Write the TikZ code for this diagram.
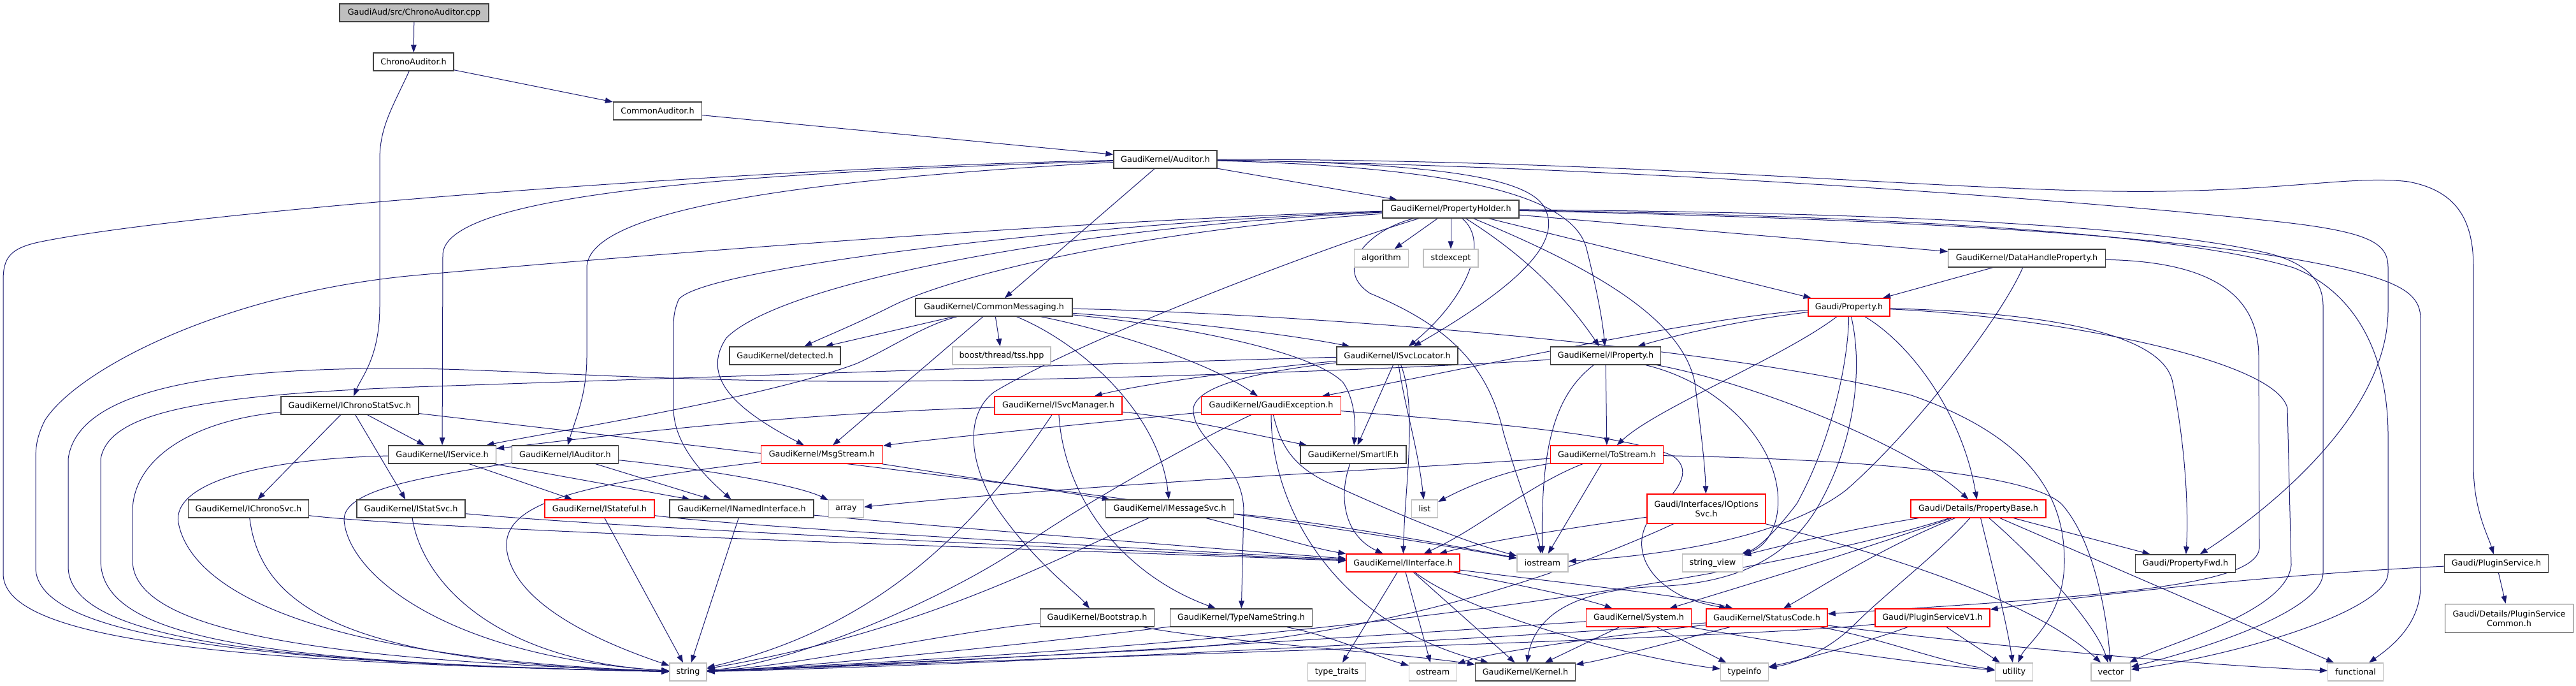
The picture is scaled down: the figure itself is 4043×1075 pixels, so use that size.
\documentclass[tikz,border=0pt]{standalone}
\usepackage{fontspec}
\setmainfont{DejaVu Sans}
\usetikzlibrary{arrows.meta}
\definecolor{ecol}{HTML}{191970}
\definecolor{bcol}{HTML}{404040}
\definecolor{gcol}{HTML}{BFBFBF}
\definecolor{rcol}{HTML}{FF0000}
\pgfdeclarelayer{bg}
\pgfsetlayers{bg,main}
\begin{document}
\begin{tikzpicture}[x=0.75pt,y=-0.75pt,
  box/.style={rectangle, inner sep=0pt, minimum height=21pt, line width=1pt, font=\fontsize{9.6pt}{11.5pt}\selectfont, align=center, fill=white},
  nb/.style={box, draw=bcol},
  nr/.style={box, draw=rcol},
  ng/.style={box, draw=gcol},
  ncpp/.style={box, draw=bcol, fill=gcol},
  bw/.style={minimum width=#1*0.75pt},
  ed/.style={draw=ecol, line width=0.75pt, -{Triangle[length=9pt,width=6.5pt]}}
]
\useasboundingbox (0,0) rectangle (4043,1075);
% nodes
\node[ncpp,bw=234] (cpp) at (650,20) {GaudiAud/src/ChronoAuditor.cpp};
\node[nb,bw=126] (cah) at (649,97) {ChronoAuditor.h};
\node[nb,bw=139] (coa) at (1032,174) {CommonAuditor.h};
\node[nb,bw=162] (aud) at (1829,250) {GaudiKernel/Auditor.h};
\node[nb,bw=214] (ph) at (2277,328) {GaudiKernel/PropertyHolder.h};
\node[ng,bw=85] (alg) at (2168,405) {algorithm};
\node[ng,bw=86] (stde) at (2277,405) {stdexcept};
\node[nb,bw=247] (dhp) at (3181,405) {GaudiKernel/DataHandleProperty.h};
\node[nr,bw=128] (prop) at (2902,482) {Gaudi/Property.h};
\node[nb,bw=246] (cm) at (1560,482) {GaudiKernel/CommonMessaging.h};
\node[ng,bw=154] (tss) at (1572,558) {boost/thread/tss.hpp};
\node[nb,bw=174] (det) at (1232,558) {GaudiKernel/detected.h};
\node[nb,bw=190] (isl) at (2193,558) {GaudiKernel/ISvcLocator.h};
\node[nb,bw=173] (ipr) at (2520,558) {GaudiKernel/IProperty.h};
\node[nb,bw=216] (icss) at (549,636) {GaudiKernel/IChronoStatSvc.h};
\node[nr,bw=200] (ism) at (1661,636) {GaudiKernel/ISvcManager.h};
\node[nr,bw=219] (gex) at (1995,636) {GaudiKernel/GaudiException.h};
\node[nb,bw=169] (isv) at (694,713) {GaudiKernel/IService.h};
\node[nb,bw=167] (iau) at (887,713) {GaudiKernel/IAuditor.h};
\node[nr,bw=191] (msg) at (1290,713) {GaudiKernel/MsgStream.h};
\node[nb,bw=166] (sif) at (2124,713) {GaudiKernel/SmartIF.h};
\node[nr,bw=177] (tos) at (2522,713) {GaudiKernel/ToStream.h};
\node[ng,bw=41] (lst) at (2236,798) {list};
\node[ng,bw=55] (arr) at (1328,798) {array};
\node[nb,bw=189] (ichs) at (390,798) {GaudiKernel/IChronoSvc.h};
\node[nb,bw=170] (ists) at (645,798) {GaudiKernel/IStatSvc.h};
\node[nr,bw=172] (istf) at (941,798) {GaudiKernel/IStateful.h};
\node[nb,bw=226] (ini) at (1164,798) {GaudiKernel/INamedInterface.h};
\node[nb,bw=201] (ims) at (1836,798) {GaudiKernel/IMessageSvc.h};
\node[nr,bw=186,minimum height=34.5pt] (iop) at (2678,798) {Gaudi/Interfaces/IOptions\\Svc.h};
\node[nr,bw=212] (pb) at (3105,798) {Gaudi/Details/PropertyBase.h};
\node[nb,bw=157] (pfwd) at (3430,884) {Gaudi/PropertyFwd.h};
\node[nb,bw=163] (ps) at (3918,884) {Gaudi/PluginService.h};
\node[nb,bw=201,minimum height=34pt] (psc) at (3938,970) {Gaudi/Details/PluginService\\Common.h};
\node[nr,bw=178] (iif) at (2202,883) {GaudiKernel/IInterface.h};
\node[ng,bw=80] (ios) at (2421,883) {iostream};
\node[ng,bw=95] (sv) at (2688,883) {string\_view};
\node[nb,bw=179] (boot) at (1722,969) {GaudiKernel/Bootstrap.h};
\node[nb,bw=223] (tns) at (1948,969) {GaudiKernel/TypeNameString.h};
\node[nr,bw=165] (sys) at (2572,969) {GaudiKernel/System.h};
\node[nr,bw=190] (sc) at (2773,969) {GaudiKernel/StatusCode.h};
\node[nr,bw=180] (psv1) at (3033,969) {Gaudi/PluginServiceV1.h};
\node[ng,bw=58] (str) at (1080,1054) {string};
\node[ng,bw=91] (tt) at (2098,1054) {type\_traits};
\node[ng,bw=75] (ost) at (2249,1054) {ostream};
\node[nb,bw=157] (ker) at (2394,1054) {GaudiKernel/Kernel.h};
\node[ng,bw=75] (tinf) at (2738,1054) {typeinfo};
\node[ng,bw=59] (util) at (3161,1054) {utility};
\node[ng,bw=62] (vec) at (3313,1054) {vector};
\node[ng,bw=87] (func) at (3697,1054) {functional};

\begin{pgfonlayer}{bg}
\fill[white] (0,0) rectangle (4043,1075);
% top chain
\draw[ed] (cpp) -- (cah);
\draw[ed] (cah) -- (coa);
\draw[ed] (cah) .. controls (615,170) and (596,200) .. (596,250) -- (596,480) .. controls (596,560) and (568,590) .. (icss);
\draw[ed] (coa) -- (aud);
% Auditor
\draw[ed] (aud) -- (ph);
\draw[ed] (aud) -- (cm);
\draw[ed] (aud) .. controls (1200,270) and (695,300) .. (695,400) -- (isv);
\draw[ed] (aud) .. controls (1250,282) and (921,330) .. (921,420) -- (921,560) .. controls (921,620) and (902,660) .. (iau);
\draw[ed] (aud) .. controls (1200,262) and (300,330) .. (60,380) .. controls (15,390) and (5,405) .. (5,440) -- (5,900) .. controls (5,1010) and (400,1040) .. (str);
\draw[ed] (aud) .. controls (2300,256) and (2415,285) .. (2428,335) .. controls (2445,385) and (2380,450) .. (isl);
\draw[ed] (aud) .. controls (2300,262) and (2470,310) .. (2490,390) .. controls (2505,450) and (2515,500) .. (ipr);
\draw[ed] (aud) .. controls (2600,250) and (3100,305) .. (3400,300) .. controls (3600,297) and (3700,275) .. (3780,285) .. controls (3860,300) and (3882,350) .. (3882,420) -- (3882,730) .. controls (3882,800) and (3905,840) .. (ps);
\draw[ed] (aud) .. controls (2600,262) and (3300,318) .. (3550,345) .. controls (3720,362) and (3748,380) .. (3748,420) -- (3748,486) .. controls (3748,650) and (3560,800) .. (pfwd);
% PropertyHolder
\draw[ed] (ph) -- (alg);
\draw[ed] (ph) -- (stde);
\draw[ed] (ph) -- (dhp);
\draw[ed] (ph) -- (prop);
\draw[ed] (ph) .. controls (2900,333) and (3350,350) .. (3550,395) .. controls (3620,410) and (3646,440) .. (3646,480) -- (3646,898) .. controls (3646,960) and (3450,1020) .. (vec);
\draw[ed] (ph) .. controls (2900,338) and (3400,360) .. (3600,420) .. controls (3700,460) and (3748,560) .. (3748,683) -- (3748,898) .. controls (3748,960) and (3500,1030) .. (vec);
\draw[ed] (ph) .. controls (2900,342) and (3500,365) .. (3727,435) .. controls (3780,452) and (3799,470) .. (3799,500) -- (3799,918) .. controls (3799,975) and (3760,1010) .. (func);
\draw[ed] (ph) .. controls (2150,360) and (2090,420) .. (2150,460) .. controls (2270,510) and (2335,570) .. (2360,680) .. controls (2390,780) and (2412,830) .. (ios);
\draw[ed] (ph) .. controls (2100,380) and (1700,530) .. (1560,615) .. controls (1515,650) and (1520,720) .. (1560,790) .. controls (1620,880) and (1690,930) .. (boot);
\draw[ed] (ph) .. controls (2340,380) and (2300,470) .. (isl);
\draw[ed] (ph) .. controls (2360,380) and (2440,440) .. (ipr);
\draw[ed] (ph) .. controls (2500,420) and (2640,500) .. (2660,600) .. controls (2670,680) and (2676,730) .. (iop);
\draw[ed] (ph) .. controls (1700,345) and (1000,400) .. (650,432) .. controls (350,460) and (120,580) .. (70,660) .. controls (58,685) and (56,700) .. (56,720) -- (56,890) .. controls (56,1000) and (400,1040) .. (str);
\draw[ed] (ph) .. controls (1700,350) and (1100,420) .. (1065,470) .. controls (1057,490) and (1057,500) .. (1057,520) -- (1057,640) .. controls (1057,700) and (1110,750) .. (ini);
\draw[ed] (ph) .. controls (1700,355) and (1230,440) .. (1140,530) .. controls (1100,590) and (1150,640) .. (msg);
\draw[ed] (ph) .. controls (1800,360) and (1500,430) .. (1400,480) .. controls (1340,510) and (1290,530) .. (det);
% CommonMessaging
\draw[ed] (cm) -- (det);
\draw[ed] (cm) -- (tss);
\draw[ed] (cm) -- (msg);
\draw[ed] (cm) .. controls (1450,510) and (1400,545) .. (1345,570) .. controls (1200,625) and (850,680) .. (isv);
\draw[ed] (cm) .. controls (1700,540) and (1820,650) .. (ims);
\draw[ed] (cm) .. controls (1750,520) and (1900,570) .. (gex);
\draw[ed] (cm) .. controls (1800,500) and (2000,520) .. (isl);
\draw[ed] (cm) .. controls (1850,510) and (2060,550) .. (2108,600) .. controls (2125,625) and (2128,660) .. (sif);
\draw[ed] (cm) .. controls (2000,490) and (2700,540) .. (3000,620) .. controls (3200,690) and (3240,790) .. (3240,880) .. controls (3240,970) and (3180,1010) .. (util);
% IChronoStatSvc
\draw[ed] (icss) -- (ichs);
\draw[ed] (icss) -- (ists);
\draw[ed] (icss) -- (isv);
\draw[ed] (icss) .. controls (300,660) and (210,720) .. (208,800) -- (208,880) .. controls (210,990) and (500,1035) .. (str);
\draw[ed] (icss) .. controls (1100,700) and (1900,790) .. (ios);
% IChronoSvc, IStatSvc
\draw[ed] (ichs) .. controls (700,833) and (1600,860) .. (iif);
\draw[ed] (ichs) .. controls (410,960) and (560,1040) .. (str);
\draw[ed] (ists) .. controls (660,900) and (760,1035) .. (str);
\draw[ed] (ists) .. controls (1000,830) and (1700,860) .. (iif);
% IService, IAuditor
\draw[ed] (isv) -- (istf);
\draw[ed] (isv) -- (ini);
\draw[ed] (isv) .. controls (400,720) and (270,760) .. (280,820) .. controls (295,900) and (420,1030) .. (str);
\draw[ed] (iau) -- (ini);
\draw[ed] (iau) .. controls (1100,735) and (1250,760) .. (arr);
\draw[ed] (iau) .. controls (650,750) and (540,770) .. (540,815) .. controls (545,900) and (700,1030) .. (str);
% IStateful, INamedInterface
\draw[ed] (istf) -- (str);
\draw[ed] (istf) .. controls (1200,830) and (1800,860) .. (iif);
\draw[ed] (ini) -- (str);
\draw[ed] (ini) .. controls (1500,828) and (1900,860) .. (iif);
% MsgStream, IMessageSvc
\draw[ed] (msg) -- (ims);
\draw[ed] (msg) .. controls (900,760) and (790,790) .. (795,860) .. controls (805,950) and (950,1010) .. (str);
\draw[ed] (ims) .. controls (1650,880) and (1450,990) .. (str);
\draw[ed] (ims) .. controls (1980,835) and (2060,860) .. (iif);
\draw[ed] (ims) .. controls (2050,815) and (2250,850) .. (ios);
% ISvcManager
\draw[ed] (ism) .. controls (1200,650) and (900,690) .. (isv);
\draw[ed] (ism) .. controls (1850,655) and (1960,680) .. (sif);
\draw[ed] (ism) .. controls (1670,780) and (1760,900) .. (tns);
\draw[ed] (ism) .. controls (1550,800) and (1400,980) .. (str);
% GaudiException
\draw[ed] (gex) .. controls (1700,665) and (1450,690) .. (msg);
\draw[ed] (gex) .. controls (1880,690) and (1700,790) .. (1600,860) .. controls (1480,940) and (1250,1040) .. (str);
\draw[ed] (gex) .. controls (1995,800) and (2100,980) .. (ker);
\draw[ed] (gex) .. controls (2010,700) and (2030,730) .. (2080,755) .. controls (2200,810) and (2300,850) .. (ios);
\draw[ed] (gex) .. controls (2300,660) and (2550,680) .. (2625,715) .. controls (2655,735) and (2640,765) .. (2600,800) .. controls (2560,840) and (2570,900) .. (2640,935) .. controls (2670,948) and (2700,952) .. (sc);
% SmartIF, ISvcLocator
\draw[ed] (sif) .. controls (2100,780) and (2110,840) .. (iif);
\draw[ed] (isl) -- (sif);
\draw[ed] (isl) .. controls (2205,640) and (2225,700) .. (lst);
\draw[ed] (isl) .. controls (2225,640) and (2205,760) .. (iif);
\draw[ed] (isl) .. controls (2000,575) and (1800,600) .. (ism);
\draw[ed] (isl) .. controls (2000,580) and (1880,600) .. (1873,640) .. controls (1870,690) and (1950,720) .. (1952,800) -- (tns);
\draw[ed] (isl) .. controls (1900,565) and (1000,595) .. (650,607) .. controls (300,620) and (170,650) .. (158,720) -- (158,880) .. controls (160,1000) and (400,1040) .. (str);
% IProperty
\draw[ed] (ipr) -- (tos);
\draw[ed] (ipr) .. controls (2440,620) and (2418,700) .. (ios);
\draw[ed] (ipr) .. controls (2200,580) and (1600,600) .. (1300,598) .. controls (1000,596) and (800,580) .. (650,578) .. controls (300,575) and (120,620) .. (107,720) -- (107,890) .. controls (110,1000) and (400,1040) .. (str);
\draw[ed] (ipr) .. controls (2750,600) and (3000,700) .. (pb);
\draw[ed] (ipr) .. controls (2700,600) and (2800,700) .. (2790,800) .. controls (2785,840) and (2765,860) .. (sv);
% ToStream
\draw[ed] (tos) .. controls (2350,740) and (2290,770) .. (lst);
\draw[ed] (tos) -- (ios);
\draw[ed] (tos) .. controls (2200,735) and (1700,760) .. (arr);
\draw[ed] (tos) .. controls (2900,720) and (3180,740) .. (3235,790) .. controls (3290,850) and (3308,980) .. (vec);
\draw[ed] (tos) .. controls (2400,760) and (2320,830) .. (iif);
% IOptionsSvc
\draw[ed] (iop) .. controls (2450,830) and (2330,850) .. (iif);
\draw[ed] (iop) .. controls (2500,880) and (2200,1000) .. (1800,1020) .. controls (1500,1035) and (1200,1050) .. (str);
\draw[ed] (iop) .. controls (3000,880) and (3200,950) .. (vec);
% PropertyBase
\draw[ed] (pb) -- (pfwd);
\draw[ed] (pb) -- (func);
\draw[ed] (pb) .. controls (2900,830) and (2780,860) .. (sv);
\draw[ed] (pb) .. controls (2850,880) and (2400,960) .. (1800,1010) .. controls (1500,1035) and (1200,1048) .. (str);
\draw[ed] (pb) .. controls (2950,860) and (2860,920) .. (sc);
\draw[ed] (pb) .. controls (2900,870) and (2700,930) .. (sys);
\draw[ed] (pb) .. controls (3040,870) and (2960,930) .. (2910,980) .. controls (2870,1020) and (2820,1040) .. (tinf);
\draw[ed] (pb) .. controls (3130,900) and (3150,980) .. (util);
\draw[ed] (pb) .. controls (3200,880) and (3290,980) .. (vec);
% Property
\draw[ed] (prop) .. controls (3000,540) and (3080,650) .. (pb);
\draw[ed] (prop) .. controls (3200,490) and (3395,520) .. (3410,600) .. controls (3430,700) and (3435,800) .. (pfwd);
\draw[ed] (prop) .. controls (3200,495) and (3570,560) .. (3590,640) -- (3596,886) .. controls (3590,960) and (3400,1010) .. (vec);
\draw[ed] (prop) .. controls (2750,500) and (2650,520) .. (ipr);
\draw[ed] (prop) .. controls (2800,560) and (2600,640) .. (tos);
\draw[ed] (prop) .. controls (2650,500) and (2300,580) .. (gex);
\draw[ed] (prop) .. controls (2900,580) and (2870,700) .. (2820,790) .. controls (2790,830) and (2760,860) .. (sv);
\draw[ed] (prop) .. controls (2925,580) and (2910,700) .. (2850,800) .. controls (2800,880) and (2720,915) .. (2600,920) .. controls (2480,925) and (2410,960) .. (ker);
% DataHandleProperty
\draw[ed] (dhp) -- (prop);
\draw[ed] (dhp) .. controls (3140,500) and (3000,680) .. (2897,769) .. controls (2830,820) and (2700,865) .. (ios);
\draw[ed] (dhp) .. controls (3450,410) and (3545,450) .. (3545,560) -- (3546,860) .. controls (3540,920) and (3300,935) .. (sc);
% IInterface
\draw[ed] (iif) -- (tt);
\draw[ed] (iif) -- (ost);
\draw[ed] (iif) -- (ker);
\draw[ed] (iif) .. controls (2400,920) and (2490,940) .. (sys);
\draw[ed] (iif) .. controls (2500,920) and (2650,935) .. (sc);
\draw[ed] (iif) .. controls (2300,960) and (2550,1030) .. (tinf);
% lower rows
\draw[ed] (boot) .. controls (1500,990) and (1250,1045) .. (str);
\draw[ed] (boot) .. controls (1900,1005) and (2200,1025) .. (ker);
\draw[ed] (tns) .. controls (1700,1000) and (1300,1045) .. (str);
\draw[ed] (tns) .. controls (2100,1000) and (2160,1030) .. (ost);
\draw[ed] (sys) -- (ker);
\draw[ed] (sys) .. controls (2200,995) and (1500,1040) .. (str);
\draw[ed] (sys) -- (tinf);
\draw[ed] (sys) .. controls (2800,1010) and (3000,1040) .. (util);
\draw[ed] (sc) .. controls (2650,1000) and (2520,1035) .. (ker);
\draw[ed] (sc) .. controls (2400,1000) and (1500,1045) .. (str);
\draw[ed] (sc) .. controls (2950,1000) and (3050,1040) .. (util);
\draw[ed] (sc) .. controls (2550,995) and (2350,1020) .. (ost);
\draw[ed] (sc) .. controls (3100,1010) and (3400,1040) .. (func);
\draw[ed] (psv1) -- (util);
\draw[ed] (psv1) .. controls (2950,1000) and (2850,1030) .. (tinf);
\draw[ed] (psv1) .. controls (2800,995) and (2200,1015) .. (1600,1035) .. controls (1400,1042) and (1200,1050) .. (str);
\draw[ed] (ps) -- (psc);
\draw[ed] (ps) .. controls (3500,905) and (3200,945) .. (psv1);
\end{pgfonlayer}
\end{tikzpicture}
\end{document}
